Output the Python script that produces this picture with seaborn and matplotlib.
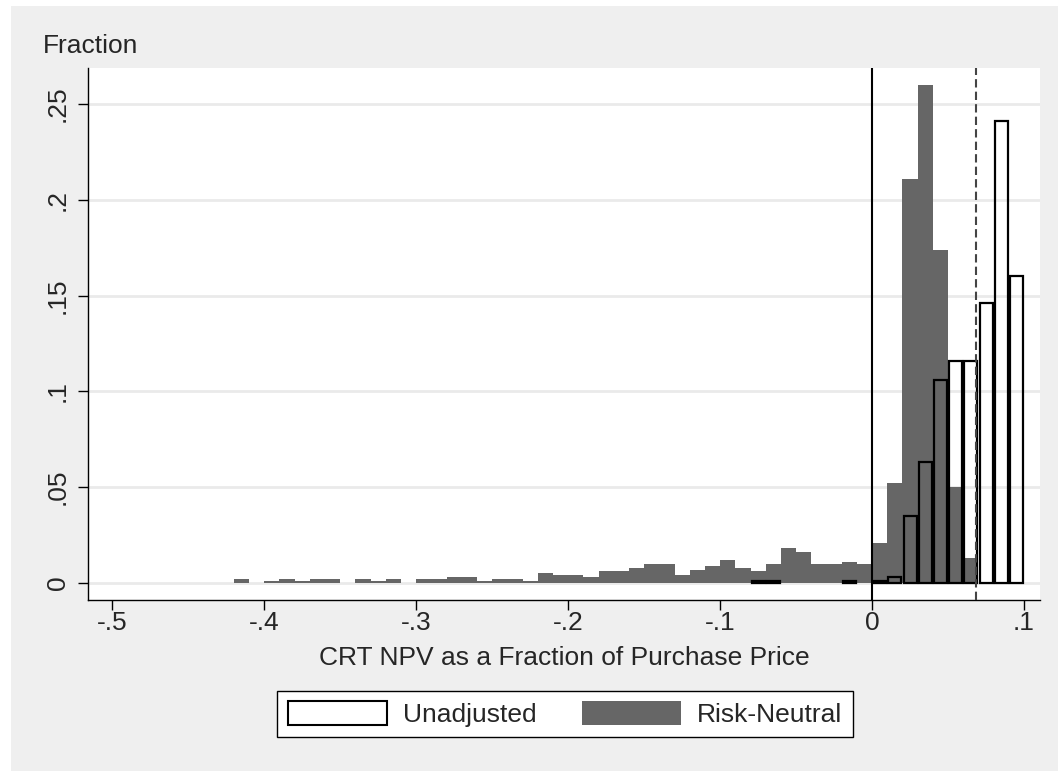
import numpy as np
import pandas as pd
import matplotlib
matplotlib.use("Agg")
import matplotlib.pyplot as plt
from matplotlib.patches import Patch, Rectangle
import seaborn as sns

# Risk-neutral NPV histogram: 0.01-wide bins from -0.42 to 0.07
rn_left = -0.42
rn_frac = [
    0.002, 0.0, 0.001, 0.002, 0.001, 0.002, 0.002, 0.0, 0.002, 0.001,   # -.42 .. -.33
    0.002, 0.0, 0.002, 0.002, 0.003, 0.003, 0.001, 0.002, 0.002, 0.001,  # -.32 .. -.23
    0.005, 0.004, 0.004, 0.003, 0.006, 0.006, 0.008, 0.010, 0.010, 0.004,  # -.22 .. -.13
    0.007, 0.009, 0.012, 0.008, 0.006, 0.010, 0.018, 0.016, 0.010, 0.010,  # -.12 .. -.03
    0.011, 0.010, 0.021, 0.052, 0.211, 0.260, 0.174, 0.050, 0.013,        # -.02 .. .06
]

# Unadjusted NPV histogram (bin centres and fractions)
ua_mid = [-0.075, -0.065, -0.015, 0.005, 0.015, 0.025, 0.035, 0.045,
          0.055, 0.065, 0.075, 0.085, 0.095]
ua_frac = [0.001, 0.001, 0.001, 0.001, 0.003, 0.035, 0.063, 0.106,
           0.116, 0.116, 0.146, 0.241, 0.160]

mean_npv = 0.0684
xticks = [-0.5, -0.4, -0.3, -0.2, -0.1, 0.0, 0.1]
xtick_labels = ["-.5", "-.4", "-.3", "-.2", "-.1", "0", ".1"]
yticks = [0, 0.05, 0.1, 0.15, 0.2, 0.25]
ytick_labels = ["0", ".05", ".1", ".15", ".2", ".25"]

FS = 19

sns.set_style("white")
plt.rcParams["font.family"] = ["Liberation Sans", "DejaVu Sans"]

fig = plt.figure(figsize=(10.58, 7.71), dpi=100)
fig.patch.set_facecolor("white")
fig.patches.append(Rectangle((11 / 1058, 0), 1 - 11 / 1058, 1 - 6 / 771,
                             transform=fig.transFigure, facecolor="#efefef",
                             edgecolor="none", zorder=-10))

ax = fig.add_axes([88 / 1058, 1 - 600 / 771, (1040 - 88) / 1058, (600 - 68) / 771])
ax.set_facecolor("white")

rn_edges = [rn_left + 0.01 * i for i in range(len(rn_frac) + 1)]
rn = pd.DataFrame({"npv": [e + 0.005 for e in rn_edges[:-1]], "frac": rn_frac})
sns.histplot(data=rn, x="npv", weights="frac", bins=rn_edges, stat="count",
             color="#666666", alpha=1, linewidth=0, ax=ax, zorder=2)

sns.barplot(x=ua_mid, y=ua_frac, native_scale=True, width=0.86, fill=False,
            color="black", linewidth=1.6, errorbar=None, ax=ax, zorder=3)

ax.axvline(0, color="black", linewidth=1.5, zorder=4)
ax.axvline(mean_npv, color="#444444", linewidth=1.5, linestyle=(0, (4, 2)), zorder=4)

ax.set_xlim(-0.516, 0.1105)
ax.set_ylim(-0.0089, 0.2688)
ax.set_xticks(xticks)
ax.set_xticklabels(xtick_labels)
ax.set_yticks(yticks)
ax.set_yticklabels(ytick_labels, rotation=90, va="center")
ax.yaxis.grid(True, color="#eaeaea", linewidth=2, zorder=0)
ax.set_axisbelow(True)
ax.tick_params(axis="both", labelsize=FS, length=7.2, width=1, color="black",
               direction="out", bottom=True, left=True)
ax.tick_params(axis="x", pad=1)
ax.tick_params(axis="y", pad=6)
for side in ["top", "right"]:
    ax.spines[side].set_visible(False)
for side in ["left", "bottom"]:
    ax.spines[side].set_color("black")
    ax.spines[side].set_linewidth(1)
ax.set_xlabel("")
ax.set_ylabel("")

fig.text(43 / 1058, 1 - 53 / 771, "Fraction", fontsize=FS, ha="left", va="baseline")
fig.text(564 / 1058, 1 - 665 / 771, "CRT NPV as a Fraction of Purchase Price",
         fontsize=FS, ha="center", va="baseline")

handles = [Patch(facecolor="white", edgecolor="black", linewidth=1.5, label="Unadjusted"),
           Patch(facecolor="#666666", edgecolor="none", label="Risk-Neutral")]
leg = fig.legend(handles=handles, loc="center", bbox_to_anchor=(565 / 1058, 1 - 714 / 771),
                 ncol=2, fontsize=FS, frameon=True, fancybox=False, handlelength=3.75,
                 handleheight=1.0, handletextpad=0.63, columnspacing=1.7,
                 borderpad=0.4, borderaxespad=0)
leg.get_frame().set_edgecolor("black")
leg.get_frame().set_facecolor("white")
leg.get_frame().set_linewidth(1)
leg.get_frame().set_alpha(1)

fig.savefig("out.png", dpi=100, facecolor=fig.get_facecolor())
